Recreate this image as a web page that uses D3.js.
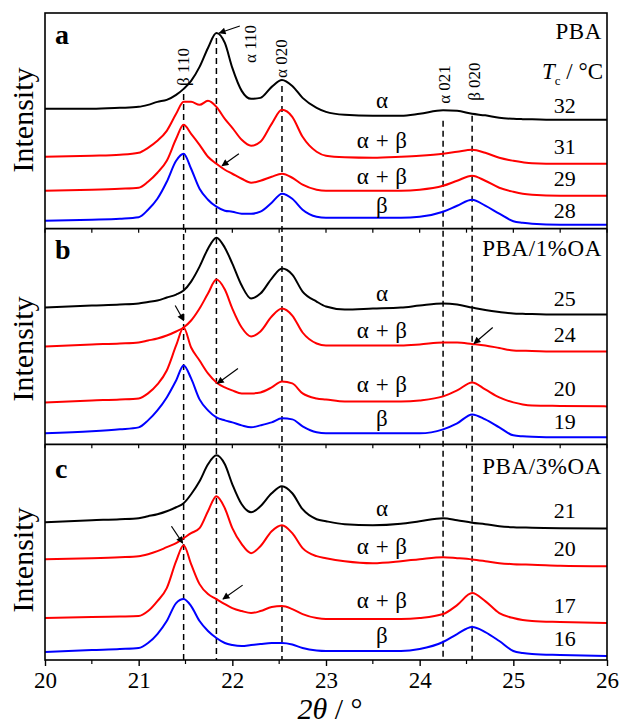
<!DOCTYPE html>
<html>
<head>
<meta charset="utf-8">
<script src="https://cdn.jsdelivr.net/npm/d3@7"></script>
<style>
  body { margin: 0; background: #fff; }
  text { font-family: "Liberation Serif", "Times New Roman", serif; fill: #000; }
</style>
</head>
<body>
<svg id="chart" width="620" height="724"></svg>
<script>
// 2θ sampling positions (degrees) shared by every pattern
const twoTheta = [20.0, 20.5, 20.8, 21.0, 21.1, 21.2, 21.3, 21.4, 21.48, 21.56, 21.65, 21.74,
  21.83, 21.92, 22.0, 22.1, 22.2, 22.3, 22.42, 22.53, 22.64, 22.75, 22.9, 23.0, 23.2,
  23.5, 23.8, 24.0, 24.25, 24.4, 24.56, 24.7, 24.85, 25.0, 25.1, 25.2, 25.5, 26.0];

// (a) neat PBA, intensity (a.u., stacked)
const pba32 = [120, 120, 121, 122, 124, 127, 129, 134, 140, 148, 162, 181,
  196, 186, 161, 138, 130, 131, 142, 149, 143, 131, 121, 117, 114,
  113, 113, 115, 118.5, 118, 115, 113.5, 111, 110, 109.7, 109.5, 109, 109];
const pba31 = [72, 73, 74, 76, 81, 88, 98, 115, 127, 127, 124, 128,
  122, 110, 101, 89, 83, 87, 105, 119, 112, 92, 77, 73, 71.5,
  71, 72, 73, 75, 77, 79, 76, 71, 68, 66.5, 65.5, 65, 65];
const pba29 = [38, 39, 40, 41, 47, 56, 68, 90, 104, 95, 84, 72,
  65, 59, 55, 50, 46, 48, 52, 55, 51, 44, 39, 38, 38,
  38, 38, 39, 43, 48, 53, 48, 41, 37, 35, 34, 33, 33];
const pba28 = [8, 9, 10, 11.5, 19, 30, 47, 68, 75, 60, 40, 29,
  22, 18, 17, 15, 15, 17, 26, 35, 30, 19, 12, 11, 11,
  11, 11, 12, 17, 23, 29, 23, 15, 7.5, 6, 5, 4, 4];

// (b) PBA/1%OA
const oa1_25 = [137, 139, 140, 141, 142.5, 144, 147, 150, 154, 163, 178, 196,
  207, 197, 181, 159, 146, 151, 166, 176, 170, 153, 143, 138, 135,
  136, 137, 139, 141, 140, 137, 134.5, 132.5, 131, 130.7, 130.5, 130, 130];
const oa1_24 = [98, 100, 101, 102, 104, 106, 109, 113, 117, 124, 136, 151,
  165, 155, 136, 117, 108, 113, 128, 136, 129, 112, 101, 99, 99,
  99, 99, 100, 102, 102, 100.5, 99, 96.5, 94, 93.7, 93.5, 93, 93];
const oa1_20 = [42, 44, 45, 46, 51, 60, 74, 99, 117, 97, 84, 71,
  62, 57, 54, 51, 51, 52, 57, 63, 61, 51, 46, 45, 43,
  43, 43, 44, 48, 54, 62, 55, 47, 42, 40, 39, 38.5, 38];
const oa1_19 = [11, 13, 15, 17, 24, 34, 47, 64, 79, 66, 45, 34,
  27, 24, 22, 19, 17, 19, 22, 26, 25, 18, 12, 11, 11,
  11, 11, 11, 15, 21, 30, 25, 17, 9, 8, 7.5, 7, 7];

// (c) PBA/3%OA
const oa3_21 = [138, 140, 141, 142, 144, 146, 149, 153, 157, 166, 179, 196,
  205, 196, 176, 156, 148, 154, 167, 174, 167, 151, 141, 139, 136,
  135, 136.5, 139, 142, 140, 137.5, 136, 134, 133, 132.7, 132.5, 132, 131.7];
const oa3_20 = [101, 102, 103, 104, 106, 109, 113, 117, 122, 127, 132, 149,
  164, 152, 132, 116, 107, 114, 129, 135, 127, 112, 104, 102, 99,
  97, 99, 101, 103, 102, 100.7, 99, 97, 96, 95.7, 95.5, 94.5, 94];
const oa3_17 = [42, 43, 43.5, 44, 49, 59, 72, 99, 115, 96, 76, 66,
  61, 56, 52, 49, 47, 49, 53, 54, 51, 46, 42, 41, 41,
  41, 41, 42, 46, 55, 67, 59, 47, 42, 40, 39, 38, 37];
const oa3_16 = [8, 10, 11, 12, 17, 26, 39, 57, 61, 54, 39, 29,
  22, 17, 15, 14, 15, 16, 17, 17, 15.5, 12, 9.5, 9, 9,
  9, 9, 11, 18, 26, 33, 28, 19, 9, 7, 6, 5, 4];

const panelLetters = ["a", "b", "c"];
const sampleNames = ["PBA", "PBA/1%OA", "PBA/3%OA"];
const crystTemps = [["32", "31", "29", "28"], ["25", "24", "20", "19"], ["21", "20", "17", "16"]];
const phaseNames = ["α", "α + β", "α + β", "β"];
const peakNames = ["β 110", "α 110", "α 020", "α 021", "β 020"];
const peakPositions = [21.48, 21.83, 22.53, 24.25, 24.56];
const xTicks = [20, 21, 22, 23, 24, 25, 26];

const patterns = [
  [pba32, pba31, pba29, pba28],
  [oa1_25, oa1_24, oa1_20, oa1_19],
  [oa3_21, oa3_20, oa3_17, oa3_16]
];
const curveColors = ["#000000", "#ff0000", "#ff0000", "#0000ff"];

// ---- layout ----
const svg = d3.select("#chart");
const L = 45, R = 607, T = 13, B = 660;
const panelH = (B - T) / 3;
const x = d3.scaleLinear().domain([20, 26]).range([L, R]);
const yOf = i => d3.scaleLinear().domain([0, 216]).range([T + panelH * (i + 1), T + panelH * i]);

// label anchor levels inside each panel (intensity units)
const tempLevels = [[116, 75, 43, 11], [139, 102, 48, 15], [142, 104, 47, 14]];
const phaseLevels = [[121, 81, 45, 16], [144, 106, 52, 18], [144, 106, 52, 17]];
const sampleLevels = [190, 189, 186];
const letterLevels = [185, 186, 182];
const intensityCenters = [120, 349, 560];

// arrows: [panel, from2θ, fromI, to2θ, toI]
const arrows = [
  [0, 22.08, 203, 21.86, 196],
  [0, 22.07, 75, 21.89, 63],
  [1, 21.39, 139, 21.48, 124],
  [1, 22.06, 76, 21.84, 61],
  [1, 24.78, 117, 24.58, 101],
  [2, 21.35, 134, 21.47, 117],
  [2, 22.11, 75, 21.9, 61]
];

const defs = svg.append("defs");
defs.append("marker")
  .attr("id", "head").attr("markerUnits", "userSpaceOnUse")
  .attr("viewBox", "0 0 10 10").attr("refX", 9).attr("refY", 5)
  .attr("markerWidth", 8).attr("markerHeight", 7).attr("orient", "auto")
  .append("path").attr("d", "M0,0 L10,5 L0,10 Z").attr("fill", "#000");
defs.append("clipPath").attr("id", "plotClip")
  .append("rect").attr("x", L).attr("y", T).attr("width", R - L).attr("height", B - T);

const line = y => d3.line()
  .x((d, i) => x(twoTheta[i]))
  .y(d => y(d))
  .curve(d3.curveMonotoneX);

// dashed reflection markers across all panels
const yA = yOf(0);
const dashTop = [135, 191, 143, 108, 113];
svg.append("g").selectAll("line").data(peakPositions).join("line")
  .attr("x1", d => x(d)).attr("x2", d => x(d))
  .attr("y1", (d, i) => yA(dashTop[i])).attr("y2", B)
  .attr("stroke", "#000").attr("stroke-width", 1.5)
  .attr("stroke-dasharray", "6,4");

patterns.forEach((set, p) => {
  const y = yOf(p);
  const g = svg.append("g").attr("clip-path", "url(#plotClip)");
  set.forEach((vals, k) => {
    g.append("path").datum(vals)
      .attr("d", line(y))
      .attr("fill", "none")
      .attr("stroke", curveColors[k])
      .attr("stroke-width", 2)
      .attr("stroke-linejoin", "round");
  });

  // temperatures and phase labels
  crystTemps[p].forEach((t, k) => {
    svg.append("text").attr("x", x(25.55)).attr("y", y(tempLevels[p][k]))
      .attr("text-anchor", "middle").attr("font-size", 22).text(t);
    svg.append("text").attr("x", x(23.6)).attr("y", y(phaseLevels[p][k]))
      .attr("text-anchor", "middle").attr("font-size", 23).attr("letter-spacing", 0.5)
      .text(phaseNames[k]);
  });

  svg.append("text").attr("x", R - 5).attr("y", y(sampleLevels[p]))
    .attr("text-anchor", "end").attr("font-size", 23).attr("letter-spacing", 0.6)
    .text(sampleNames[p]);

  svg.append("text").attr("x", 55).attr("y", y(letterLevels[p]))
    .attr("font-size", 28).attr("font-weight", "bold").text(panelLetters[p]);

  svg.append("text")
    .attr("transform", `translate(33,${intensityCenters[p]}) rotate(-90)`)
    .attr("text-anchor", "middle").attr("font-size", 30).text("Intensity");

  // inward ticks along the top edge of panels b and c
  if (p > 0) {
    const top = T + panelH * p;
    svg.append("g").selectAll("line").data(d3.range(20, 26.01, 0.5)).join("line")
      .attr("x1", d => x(d)).attr("x2", d => x(d))
      .attr("y1", top).attr("y2", top + 4)
      .attr("stroke", "#000").attr("stroke-width", 1.2);
  }
});

// Tc header in panel a
const tc = svg.append("text").attr("x", R - 4).attr("y", yA(150))
  .attr("text-anchor", "end").attr("font-size", 23);
tc.append("tspan").attr("font-style", "italic").text("T");
tc.append("tspan").attr("font-size", 13).attr("dy", 6).text("c");
tc.append("tspan").attr("dy", -6).text(" / °C");

// peak labels (rotated)
const peakLabelX = [21.48, 22.19, 22.53, 24.27, 24.59];
const peakLabelBase = [143, 166, 151, 125, 128];
peakNames.forEach((n, i) => {
  svg.append("text")
    .attr("transform", `translate(${x(peakLabelX[i])},${yA(peakLabelBase[i])}) rotate(-90)`)
    .attr("dominant-baseline", "central")
    .attr("font-size", 17).text(n);
});

// arrows
arrows.forEach(a => {
  const y = yOf(a[0]);
  svg.append("line")
    .attr("x1", x(a[1])).attr("y1", y(a[2]))
    .attr("x2", x(a[3])).attr("y2", y(a[4]))
    .attr("stroke", "#000").attr("stroke-width", 1.2)
    .attr("marker-end", "url(#head)");
});

// frame and panel separators
svg.append("rect").attr("x", L).attr("y", T).attr("width", R - L).attr("height", B - T)
  .attr("fill", "none").attr("stroke", "#000").attr("stroke-width", 1.6);
[1, 2].forEach(p => {
  svg.append("line").attr("x1", L).attr("x2", R)
    .attr("y1", T + panelH * p).attr("y2", T + panelH * p)
    .attr("stroke", "#000").attr("stroke-width", 1.6);
});

// bottom axis
const axis = d3.axisBottom(x).tickValues(xTicks).tickSize(6).tickFormat(d3.format("d"));
const gAx = svg.append("g").attr("transform", `translate(0,${B})`).call(axis);
gAx.select(".domain").remove();
gAx.selectAll(".tick line").attr("stroke", "#000").attr("stroke-width", 1.4);
gAx.selectAll(".tick text").attr("font-size", 23).attr("dy", null).attr("y", 28)
  .attr("font-family", "Liberation Serif, serif");
svg.append("g").selectAll("line").data(d3.range(20.5, 26, 1)).join("line")
  .attr("x1", d => x(d)).attr("x2", d => x(d))
  .attr("y1", B).attr("y2", B + 4)
  .attr("stroke", "#000").attr("stroke-width", 1.2);

const xt = svg.append("text").attr("x", (L + R) / 2 + 4).attr("y", 719)
  .attr("text-anchor", "middle").attr("font-size", 30);
xt.append("tspan").attr("font-style", "italic").text("2θ");
xt.append("tspan").text(" / °");
</script>
</body>
</html>
